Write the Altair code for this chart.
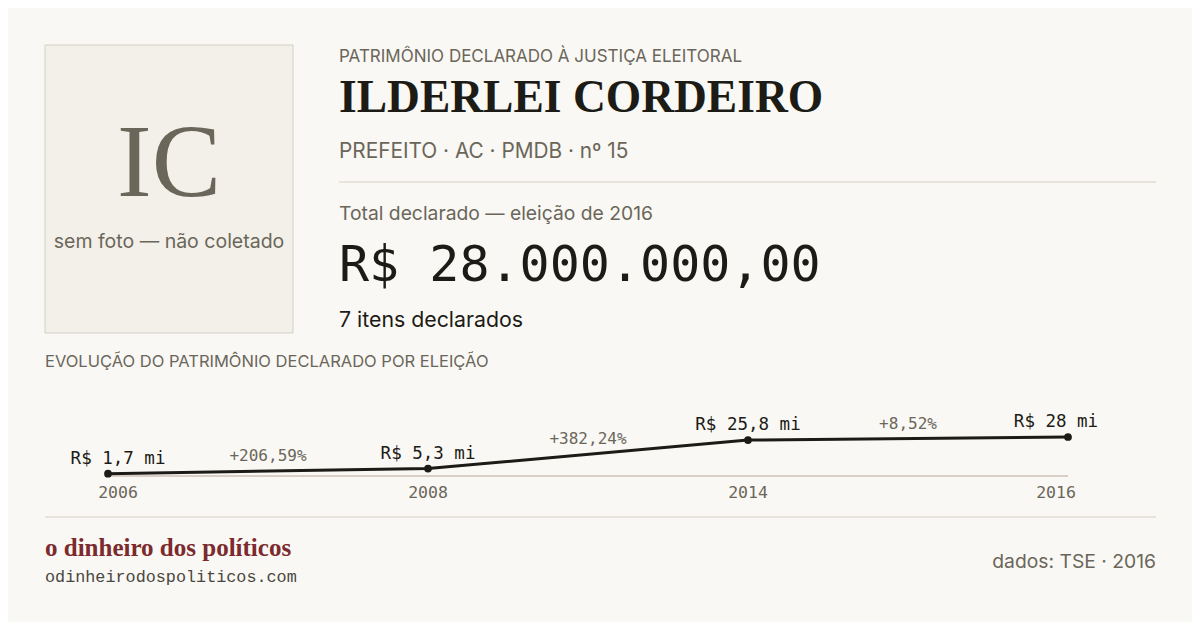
import altair as alt
import pandas as pd

# ---- data ----
years = ["2006", "2008", "2014", "2016"]
values_mi = [1.7, 5.3, 25.8, 28.0]
value_labels = ["R$ 1,7 mi", "R$ 5,3 mi", "R$ 25,8 mi", "R$ 28 mi"]
pct_labels = ["+206,59%", "+382,24%", "+8,52%"]

kicker = "PATRIMÔNIO  DECLARADO À JUSTIÇA ELEITORAL"
name = "ILDERLEI CORDEIRO"
subtitle = "PREFEITO · AC · PMDB · nº 15"
total_label = "Total declarado — eleição de 2016"
total_value = "R$ 28.000.000,00"
items_label = "7 itens declarados"
initials = "IC"
no_photo = "sem foto — não coletado"
section_title = "EVOLUÇÃO DO PATRIMÔNIO  DECLARADO POR ELEIÇÃO"
brand = "o dinheiro dos políticos"
site = "odinheirodospoliticos.com"
source = "dados: TSE · 2016"

BG = "#f9f8f4"
DARK = "#1c1b16"
GRAY = "#6b665a"
RULE = "#d6d0c4"
SANS = "Inter"
SERIF = "Liberation Serif"
MONO = "DejaVu Sans Mono"
OFF = 8  # page margin

series = pd.DataFrame({
    "idx": list(range(len(years))),
    "year": years,
    "value": values_mi,
    "label": value_labels,
})
pairs = pd.DataFrame({
    "mid": [i + 0.5 for i in range(len(pct_labels))],
    "ymid": [(values_mi[i] + values_mi[i + 1]) / 2 for i in range(len(pct_labels))],
    "pct": pct_labels,
})
one = pd.DataFrame({"k": [0]})


def txt(text, x, y, size, color, font, weight="normal", align="left"):
    return alt.Chart(one).mark_text(
        text=text, fontSize=size, color=color, font=font, fontWeight=weight,
        align=align, baseline="alphabetic",
    ).encode(x=alt.value(x - OFF), y=alt.value(y - OFF))


def hrule(x1, x2, y, color=RULE, width=1):
    return alt.Chart(one).mark_rule(color=color, strokeWidth=width).encode(
        x=alt.value(x1 - OFF), x2=alt.value(x2 - OFF), y=alt.value(y - OFF))


box = alt.Chart(one).mark_rect(fill="#f2f0e9", stroke="#d4cfc3", strokeWidth=1).encode(
    x=alt.value(45 - OFF), x2=alt.value(293 - OFF),
    y=alt.value(45 - OFF), y2=alt.value(333 - OFF))

xs = alt.Scale(domain=[0, len(years) - 1], range=[108 - OFF, 1068 - OFF])
ys = alt.Scale(domain=[0, max(values_mi)], range=[476 - OFF, 437 - OFF])
X = lambda f: alt.X(f"{f}:Q", scale=xs, axis=None)
Y = lambda f: alt.Y(f"{f}:Q", scale=ys, axis=None)

base_rule = alt.Chart(series).transform_aggregate(
    lo="min(idx)", hi="max(idx)"
).transform_calculate(zero="0").mark_rule(color=RULE, strokeWidth=2).encode(
    x=X("lo"), x2="hi:Q", y=Y("zero"))

line = alt.Chart(series).mark_line(color=DARK, strokeWidth=3).encode(
    x=X("idx"), y=Y("value"))
points = alt.Chart(series).mark_circle(color=DARK, opacity=1, size=60).encode(
    x=X("idx"), y=Y("value"))

last = len(years) - 1
groups = [
    (alt.datum.idx == 0, 10),
    ((alt.datum.idx > 0) & (alt.datum.idx < last), 0),
    (alt.datum.idx == last, -12),
]
label_layers = []
for cond, dx in groups:
    label_layers.append(alt.Chart(series).transform_filter(cond).mark_text(
        font=MONO, fontSize=17.5, color=DARK, dy=-10, dx=dx, baseline="alphabetic",
        align="center",
    ).encode(x=X("idx"), y=Y("value"), text="label:N"))
    label_layers.append(alt.Chart(series).transform_filter(cond).mark_text(
        font=MONO, fontSize=16.5, color=GRAY, dx=dx, baseline="alphabetic",
        align="center",
    ).encode(x=X("idx"), y=alt.value(498 - OFF), text="year:N"))

pct = alt.Chart(pairs).mark_text(
    font=MONO, fontSize=16, color=GRAY, dy=-10, baseline="alphabetic", align="center"
).encode(x=X("mid"), y=Y("ymid"), text="pct:N")

layers = [
    box,
    txt(initials, 169, 196, 104, GRAY, SERIF, align="center"),
    txt(no_photo, 169, 248, 19.5, GRAY, SANS, align="center"),
    txt(kicker, 339, 62, 17, GRAY, SANS),
    txt(name, 339, 112, 45.5, DARK, SERIF, weight="bold"),
    txt(subtitle, 339, 158, 20.8, GRAY, SANS),
    hrule(339, 1156, 182),
    txt(total_label, 339, 220, 19.3, GRAY, SANS),
    txt(total_value, 339, 281, 50, DARK, MONO),
    txt(items_label, 339, 327, 21.3, DARK, SANS),
    txt(section_title, 45, 367, 16.5, GRAY, SANS),
    base_rule, line, points, *label_layers, pct,
    hrule(45, 1156, 517),
    txt(brand, 45, 556, 25, "#7b2a2d", SERIF, weight="bold"),
    txt(site, 45, 582, 16.8, "#4a4740", "Liberation Mono"),
    txt(source, 1156, 568, 19.3, GRAY, SANS, align="right"),
]

chart = alt.layer(*layers).properties(
    width=1200 - 2 * OFF, height=630 - 2 * OFF,
    autosize=alt.AutoSizeParams(type="none"), padding=0, background=BG,
).configure_view(stroke=None)

chart.save("out.html", embed_options={"renderer": "svg", "actions": False})
